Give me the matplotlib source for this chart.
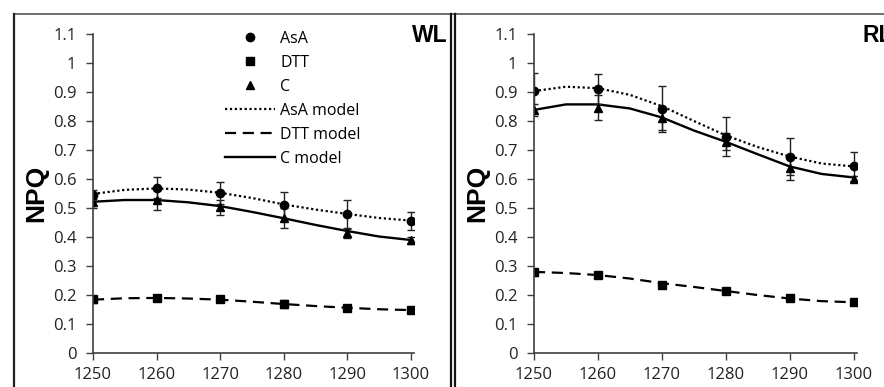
import numpy as np
import matplotlib
matplotlib.use("Agg")
import matplotlib.pyplot as plt
from matplotlib.lines import Line2D

# x positions of the measurements and of the model read-outs
x_meas = [1250, 1260, 1270, 1280, 1290, 1300]
x_model = [1250, 1255, 1260, 1265, 1270, 1275, 1280, 1285, 1290, 1295, 1300]

y_ticks = [0, 0.1, 0.2, 0.3, 0.4, 0.5, 0.6, 0.7, 0.8, 0.9, 1.0, 1.1]
y_tick_labels = ["0", "0.1", "0.2", "0.3", "0.4", "0.5", "0.6", "0.7", "0.8", "0.9", "1", "1.1"]
x_ticks = [1250, 1260, 1270, 1280, 1290, 1300]

# WL panel
wl_asa = [0.546, 0.570, 0.550, 0.509, 0.479, 0.455]
wl_asa_err = [0.015, 0.035, 0.038, 0.045, 0.048, 0.032]
wl_dtt = [0.184, 0.189, 0.184, 0.168, 0.156, 0.149]
wl_dtt_err = [0.012, 0.010, 0.010, 0.015, 0.010, 0.008]
wl_c = [0.521, 0.527, 0.502, 0.464, 0.412, 0.388]
wl_c_err = [0.020, 0.035, 0.025, 0.035, 0.015, 0.012]
wl_asa_model = [0.548, 0.562, 0.567, 0.563, 0.552, 0.534, 0.512, 0.494, 0.479, 0.465, 0.456]
wl_dtt_model = [0.183, 0.188, 0.189, 0.187, 0.183, 0.176, 0.168, 0.161, 0.155, 0.150, 0.147]
wl_c_model = [0.521, 0.527, 0.527, 0.519, 0.506, 0.486, 0.464, 0.441, 0.420, 0.401, 0.389]

# RL panel
rl_asa = [0.903, 0.910, 0.841, 0.746, 0.677, 0.643]
rl_asa_err = [0.063, 0.052, 0.080, 0.066, 0.063, 0.050]
rl_dtt = [0.278, 0.269, 0.235, 0.214, 0.188, 0.174]
rl_dtt_err = [0.012, 0.010, 0.010, 0.008, 0.008, 0.006]
rl_c = [0.838, 0.846, 0.809, 0.728, 0.637, 0.601]
rl_c_err = [0.022, 0.042, 0.040, 0.030, 0.040, 0.010]
rl_asa_model = [0.903, 0.918, 0.913, 0.890, 0.851, 0.800, 0.750, 0.710, 0.677, 0.653, 0.643]
rl_dtt_model = [0.279, 0.275, 0.268, 0.256, 0.240, 0.227, 0.213, 0.199, 0.187, 0.178, 0.174]
rl_c_model = [0.838, 0.857, 0.857, 0.843, 0.812, 0.767, 0.728, 0.685, 0.643, 0.617, 0.605]

TICK_FONT = "Open Sans"
TICK_SIZE = 12
AXIS_COLOR = "#404040"

W, H = 884, 387
fig = plt.figure(figsize=(W / 100, H / 100), dpi=100)
fig.patch.set_facecolor("white")


def draw_panel(rect, asa, asa_err, dtt, dtt_err, c, c_err, asa_m, dtt_m, c_m):
    ax = fig.add_axes(rect)

    # model curves
    ax.plot(x_model, asa_m, color="black", linestyle=(0, (1, 1.2)), linewidth=1.6, label="AsA model")
    ax.plot(x_model, dtt_m, color="black", linestyle=(0, (5, 3)), linewidth=1.6, label="DTT model")
    ax.plot(x_model, c_m, color="black", linestyle="-", linewidth=1.7, label="C model")

    # error bars
    for vals, errs in [(asa, asa_err), (dtt, dtt_err), (c, c_err)]:
        ax.errorbar(x_meas, vals, yerr=errs, fmt="none", ecolor="#222222",
                    elinewidth=1.0, capsize=3.0, capthick=1.0)

    # markers
    ax.plot(x_meas, asa, linestyle="none", marker="o", markersize=6, color="black", label="AsA")
    ax.plot(x_meas, dtt, linestyle="none", marker="s", markersize=6, color="black", label="DTT")
    ax.plot(x_meas, c, linestyle="none", marker="^", markersize=6, color="black", label="C")

    ax.set_xlim(1250, 1300.5)
    ax.set_ylim(0, 1.1)
    ax.set_xticks(x_ticks)
    ax.set_xticklabels([str(v) for v in x_ticks], fontfamily=TICK_FONT, fontsize=TICK_SIZE, color="#222222")
    ax.set_yticks(y_ticks)
    ax.set_yticklabels(y_tick_labels, fontfamily=TICK_FONT, fontsize=TICK_SIZE, color="#222222")
    ax.tick_params(axis="y", direction="out", length=5, width=1, color=AXIS_COLOR, pad=7)
    ax.tick_params(axis="x", direction="out", length=5, width=1, color=AXIS_COLOR, pad=5)

    for s in ["top", "right"]:
        ax.spines[s].set_visible(False)
    for s in ["left", "bottom"]:
        ax.spines[s].set_color(AXIS_COLOR)
        ax.spines[s].set_linewidth(1.2)
    ax.patch.set_visible(False)

    ax.set_ylabel("NPQ", fontfamily="Liberation Sans", fontweight="bold", fontsize=19, labelpad=3)
    return ax


ax1 = draw_panel([93 / W, 34.3 / H, 321 / W, 318.7 / H],
                 wl_asa, wl_asa_err, wl_dtt, wl_dtt_err, wl_c, wl_c_err,
                 wl_asa_model, wl_dtt_model, wl_c_model)
ax2 = draw_panel([534 / W, 34.3 / H, 322.7 / W, 318.7 / H],
                 rl_asa, rl_asa_err, rl_dtt, rl_dtt_err, rl_c, rl_c_err,
                 rl_asa_model, rl_dtt_model, rl_c_model)

# panel tags (RL is cut by the right edge in the original too)
fig.text(448 / W, 1 - 35 / H, "WL", ha="right", va="center", fontfamily="Liberation Sans",
         fontweight="bold", fontsize=16.5)
fig.text(863 / W, 1 - 35 / H, "RL", ha="left", va="center", fontfamily="Liberation Sans",
         fontweight="bold", fontsize=16.5)

# legend in the WL panel
handles, labels = ax1.get_legend_handles_labels()
order = ["AsA", "DTT", "C", "AsA model", "DTT model", "C model"]
hmap = dict(zip(labels, handles))
leg = ax1.legend([hmap[k] for k in order], order, loc="upper left",
                 bbox_to_anchor=(225 / W, 1 - 31 / H), bbox_transform=fig.transFigure,
                 frameon=False, prop={"family": TICK_FONT, "size": 11.5},
                 handlelength=3.1, handletextpad=0.35, labelspacing=0.5,
                 borderpad=0, borderaxespad=0)

# frame lines around the panels
fig.add_artist(Line2D([14 / W, 1], [1 - 14 / H, 1 - 14 / H], transform=fig.transFigure,
                      color="#555555", linewidth=1.2))
fig.add_artist(Line2D([14 / W, 14 / W], [0, 1 - 14 / H], transform=fig.transFigure,
                      color="#222222", linewidth=1.6))
for xp in [451.5, 455.5]:
    fig.add_artist(Line2D([xp / W, xp / W], [0, 1 - 14 / H], transform=fig.transFigure,
                          color="#111111", linewidth=1.6))

fig.savefig("out.png", dpi=100)
